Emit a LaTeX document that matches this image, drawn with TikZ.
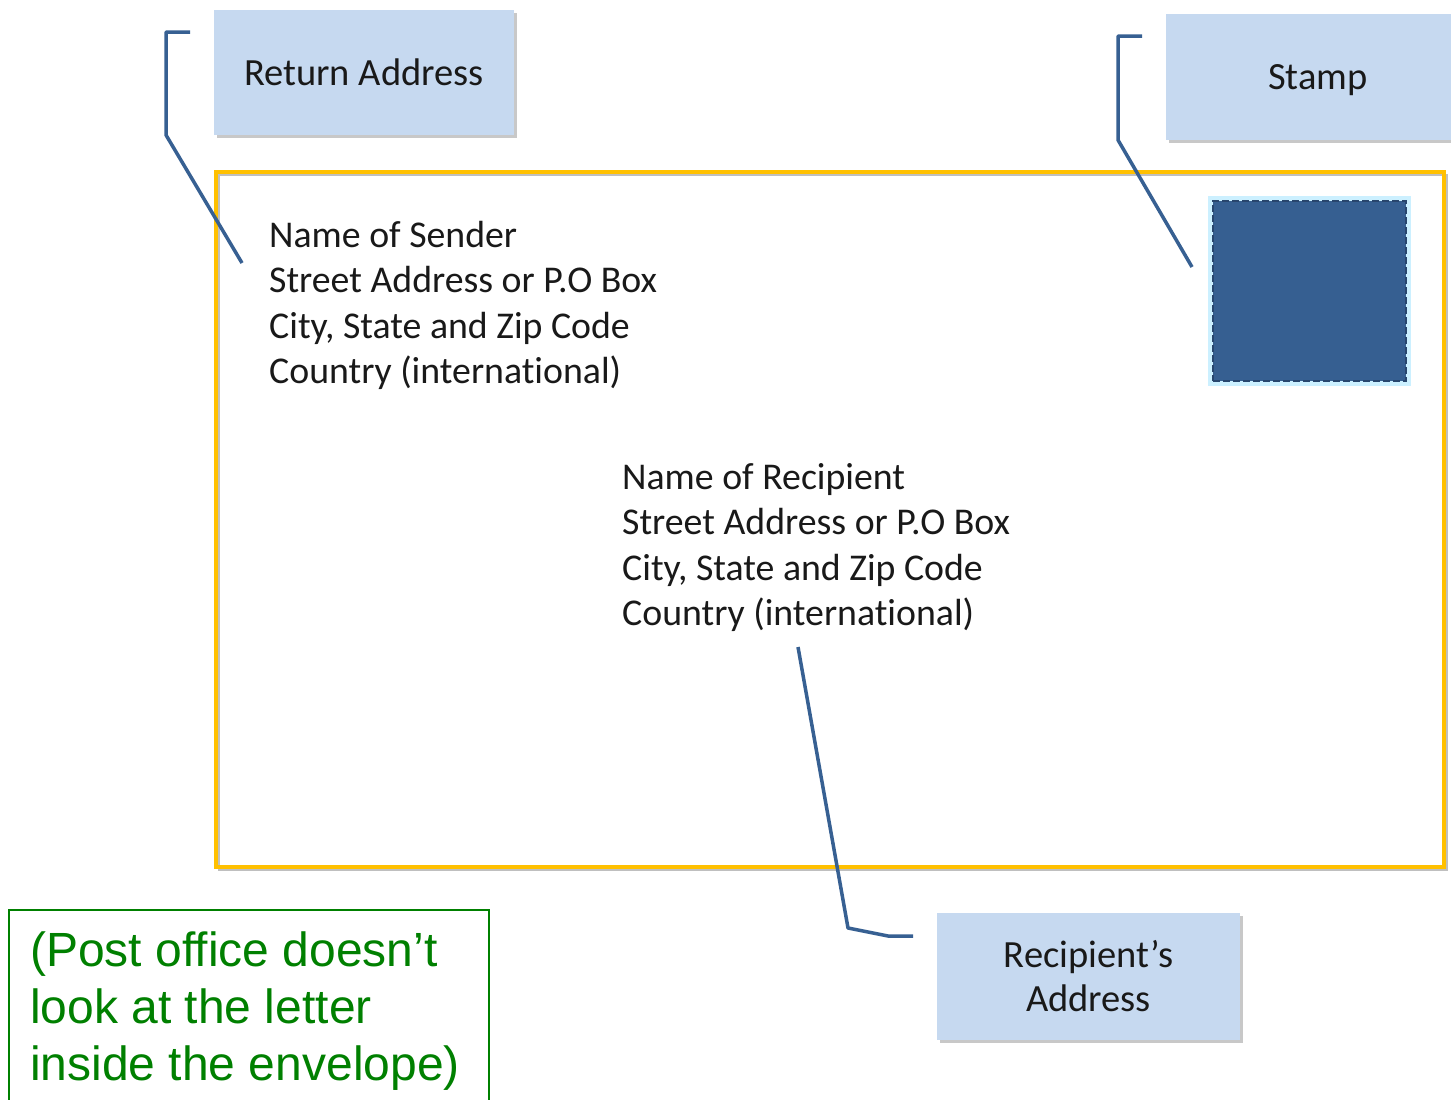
\documentclass[tikz,border=0pt]{standalone}
\usepackage{fontspec}
\setmainfont[Ligatures=NoCommon]{Carlito}
\newfontfamily\arialf{Liberation Sans}
\usetikzlibrary{shadows}
\definecolor{boxfill}{RGB}{198,217,240}
\definecolor{lineblue}{RGB}{55,96,146}
\definecolor{gold}{RGB}{255,192,0}
\definecolor{stampblue}{RGB}{54,95,145}
\definecolor{stampedge}{RGB}{40,70,110}
\definecolor{glow}{RGB}{170,230,255}
\definecolor{notegreen}{RGB}{0,128,0}
\definecolor{txt}{RGB}{25,25,25}
\begin{document}
\begin{tikzpicture}[x=1pt,y=-1pt,
  labelbox/.style={fill=boxfill, inner sep=0, align=center, text=txt,
    font=\fontsize{38.5}{44}\selectfont,
    drop shadow={shadow xshift=3pt,shadow yshift=-3pt,opacity=0.3,fill=black!70}},
  addr/.style={anchor=north west, inner sep=0, align=left, text=txt,
    font=\fontsize{37.8}{45.5}\selectfont},
  callout/.style={draw=lineblue, line width=3.5pt, line join=round}]
\clip (0,0) rectangle (1451,1100);
\fill[white] (0,0) rectangle (1451,1100);
% envelope
\draw[black!25, line width=2pt] (219,175) rectangle (1447,870);
\node[draw=gold, line width=4pt, minimum width=1228pt, minimum height=695pt, inner sep=0] (env) at (830,519.5) {};
% label boxes
\node[labelbox, minimum width=300pt, minimum height=125pt] (ret) at (364,72.5) {Return Address};
\node[labelbox, text depth=0pt, minimum width=304pt, minimum height=126pt] (stampbox) at (1318,77) {Stamp};
\node[labelbox, minimum width=303pt, minimum height=127pt] (rec) at (1088.5,976.5) {Recipient’s\\Address};
% stamp
\node[draw=glow, line width=10pt, opacity=0.6, minimum width=193pt, minimum height=180pt, inner sep=0] (glowsq) at (1309.5,291) {};
\node[fill=stampblue, draw=stampedge, line width=2pt, dash pattern=on 7pt off 3pt, minimum width=193pt, minimum height=180pt, inner sep=0] (stamp) at (1309.5,291) {};
% addresses
\node[addr] (sender) at (269,221) {Name of Sender\\Street Address or P.O Box\\City, State and Zip Code\\Country (international)};
\node[addr] (recip) at (622,463) {Name of Recipient\\Street Address or P.O Box\\City, State and Zip Code\\Country (international)};
% callouts
\coordinate (raA) at (190,32);
\coordinate (raB) at (166,32);
\coordinate (raC) at (166,135);
\coordinate (raD) at (242,263);
\draw[callout] (raA) -- (raB) -- (raC) -- (raD);
\coordinate (stA) at (1142,36);
\coordinate (stB) at (1118,36);
\coordinate (stC) at (1118,140);
\coordinate (stD) at (1192,267);
\draw[callout] (stA) -- (stB) -- (stC) -- (stD);
\coordinate (rcA) at (798,647);
\coordinate (rcB) at (848,928);
\coordinate (rcC) at (888,936);
\coordinate (rcD) at (913,936);
\draw[callout] (rcA) -- (rcB) -- (rcC) -- (rcD);
% note
\draw[notegreen, line width=2pt] (9,910) rectangle (489,1110);
\node[anchor=north west, inner sep=0, align=left, text=notegreen,
  font=\arialf\fontsize{48}{57}\selectfont] (note) at (30,932)
  {(Post office doesn’t\\look at the letter\\inside the envelope)};
\end{tikzpicture}
\end{document}
